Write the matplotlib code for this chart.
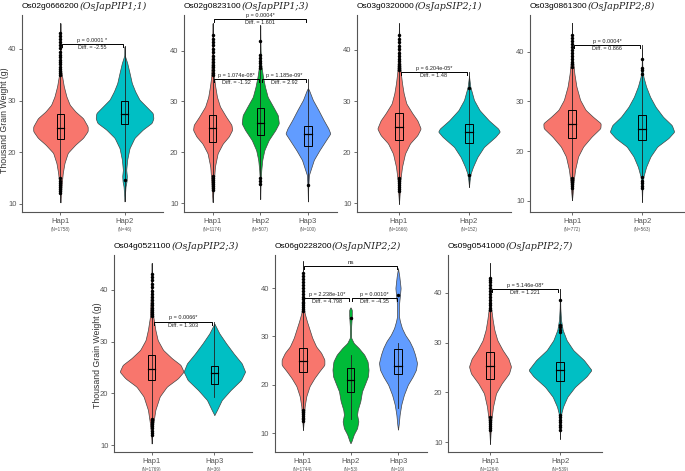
import numpy as np
import matplotlib
matplotlib.use("Agg")
import matplotlib.pyplot as plt
from matplotlib.patches import Rectangle

W, H = 685, 471
RED, GREEN, BLUE, CYAN = "#F8766D", "#00BA38", "#619CFF", "#00BFC4"

# ---------------- data ----------------
# Panel 1
p1_id, p1_gene = "Os02g0666200", "(OsJapPIP1;1)"
p1_groups = ["Hap1", "Hap2"]
p1_n = [1758, 46]
p1_h1_y = [45, 36, 34.7, 32.8, 30.8, 29.2, 27.9, 26.6, 25.0, 24.1, 22.8, 21.5, 19.9, 17.9, 16.0, 14.1, 12.1, 10.3]
p1_h1_d = [0, 2, 5, 10, 18, 28, 45, 68, 82, 82, 68, 45, 22, 12, 7, 4, 2, 0]
p1_h1_box = [22.6, 24.8, 27.4]
p1_h1_rng = [10.3, 45.0]
p1_h1_out = [35.0, 35.4, 35.8, 36.2, 36.6, 37.0, 37.4, 37.9, 38.4, 38.9, 39.5, 40.1, 40.7, 41.3, 41.9, 42.5, 43.1,
             12.1, 12.5, 12.9, 13.3, 13.7, 14.1, 14.5, 15.0]
p1_h2_y = [40.5, 38.7, 37.3, 35.4, 33.4, 31.8, 30.2, 28.9, 27.6, 26.6, 25.7, 24.4, 22.8, 20.8, 18.6, 16.6, 15.4, 14.4, 13.4, 12.5, 10.5]
p1_h2_d = [0, 1, 8, 15, 22, 32, 45, 65, 85, 87, 82, 55, 30, 15, 8, 5, 7, 6, 3, 2, 0]
p1_h2_box = [25.5, 27.4, 30.0]
p1_h2_rng = [10.5, 40.5]
p1_h2_out = [14.6]

# Panel 2
p2_id, p2_gene = "Os02g0823100", "(OsJapPIP1;3)"
p2_groups = ["Hap1", "Hap2", "Hap3"]
p2_n = [1174, 507, 100]
p2_h1_y = [45.4, 40, 34.9, 32.9, 30.9, 29.0, 27.0, 25.4, 24.4, 23.1, 21.7, 19.8, 17.2, 14.5, 11.9, 10.2]
p2_h1_d = [0, 2, 4, 8, 13, 22, 40, 56, 58, 48, 30, 15, 7, 4, 2, 0]
p2_h1_box = [22.1, 24.7, 27.3]
p2_h1_rng = [10.2, 45.4]
p2_h1_out = [35.2, 35.7, 36.2, 36.7, 37.2, 37.8, 38.4, 39.0, 39.7, 40.4, 41.1, 41.8, 42.4, 43.0,
             12.5, 12.9, 13.3, 13.7, 14.1, 14.5, 14.9, 15.3]
p2_h2_y = [45, 40, 37.2, 34.9, 32.9, 30.9, 29.0, 27.3, 25.7, 24.4, 22.4, 20.4, 18.5, 16.5, 14, 10.8]
p2_h2_d = [0, 1, 3, 8, 14, 22, 38, 52, 55, 45, 25, 12, 6, 3, 1, 0]
p2_h2_box = [23.4, 25.8, 28.8]
p2_h2_rng = [10.8, 45.0]
p2_h2_out = [36.5, 37.0, 37.5, 38.0, 38.6, 39.2, 42.0, 13.8, 14.4, 15.0]
p2_h3_y = [32.6, 32.3, 30.3, 28.3, 26.3, 24.7, 23.7, 22.4, 20.4, 18.5, 16.5, 15.5, 13, 10.3]
p2_h3_d = [0, 3, 15, 32, 48, 62, 68, 55, 35, 18, 8, 3, 1, 0]
p2_h3_box = [21.3, 23.5, 25.2]
p2_h3_rng = [10.3, 34.4]
p2_h3_out = [13.5]

# Panel 3
p3_id, p3_gene = "Os03g0320000", "(OsJapSIP2;1)"
p3_groups = ["Hap1", "Hap2"]
p3_n = [1666, 152]
p3_h1_y = [45.2, 40, 35.7, 33.5, 31.5, 29.5, 27.6, 26.2, 24.6, 23.3, 21.7, 19.7, 17.1, 14.5, 11.8, 9.9]
p3_h1_d = [0, 2, 5, 9, 14, 22, 40, 55, 65, 55, 33, 18, 9, 4, 2, 0]
p3_h1_box = [22.4, 24.9, 27.7]
p3_h1_rng = [9.9, 45.2]
p3_h1_out = [36.1, 36.5, 36.9, 37.3, 37.8, 38.3, 38.9, 39.5, 40.1, 40.8, 41.5, 42.2, 42.9,
             12.3, 12.7, 13.1, 13.5, 13.9, 14.3, 14.7, 15.0]
p3_h2_y = [34.9, 32.8, 30.2, 28.2, 26.2, 24.6, 24.0, 23.0, 21.0, 19.0, 17.1, 15.8, 14.5, 13.2]
p3_h2_d = [0, 4, 15, 32, 60, 88, 93, 80, 45, 25, 12, 5, 2, 0]
p3_h2_box = [21.8, 24.0, 25.4]
p3_h2_rng = [13.2, 35.7]
p3_h2_out = [32.5, 15.5]

# Panel 4
p4_id, p4_gene = "Os03g0861300", "(OsJapPIP2;8)"
p4_groups = ["Hap1", "Hap2"]
p4_n = [772, 563]
p4_h1_y = [45.8, 41, 38.3, 35.6, 33, 30.3, 28.3, 26.9, 25.6, 24.6, 22.9, 20.9, 18.9, 16.2, 13.5, 11.5, 10.1]
p4_h1_d = [0, 1, 3, 7, 13, 24, 40, 62, 85, 84, 58, 33, 18, 9, 4, 2, 0]
p4_h1_box = [22.7, 25.4, 28.3]
p4_h1_rng = [10.1, 45.8]
p4_h1_out = [37.0, 37.5, 38.0, 38.6, 39.2, 39.8, 40.4, 41.0, 41.6, 42.2, 42.8, 43.4,
             12.5, 12.9, 13.3, 13.7, 14.1, 14.5]
p4_h2_y = [40.7, 37, 35, 33, 30.9, 28.9, 26.9, 25.2, 23.9, 22.6, 20.9, 18.9, 16.8, 14.8, 12, 9.8]
p4_h2_d = [0, 1, 4, 12, 24, 40, 62, 88, 95, 78, 45, 25, 12, 4, 1, 0]
p4_h2_box = [22.2, 24.4, 27.2]
p4_h2_rng = [9.8, 41.3]
p4_h2_out = [35.5, 36.3, 36.8, 38.5, 12.5, 13.0, 13.5, 14.0, 14.8]

# Panel 5
p5_id, p5_gene = "Os04g0521100", "(OsJapPIP2;3)"
p5_groups = ["Hap1", "Hap3"]
p5_n = [1769, 36]
p5_h1_y = [45.2, 40, 34.8, 32.3, 30.3, 28.4, 26.8, 25.5, 24.2, 22.9, 21.3, 19.4, 16.8, 14.2, 12.3, 10.3]
p5_h1_d = [0, 2, 5, 11, 18, 34, 60, 86, 95, 78, 45, 24, 11, 5, 2, 0]
p5_h1_box = [22.5, 24.8, 27.4]
p5_h1_rng = [10.3, 45.2]
p5_h1_out = [35.0, 35.4, 35.8, 36.2, 36.6, 37.0, 37.5, 38.0, 38.6, 39.2, 39.8, 40.5, 41.2, 41.9, 42.5, 43.0,
             12.0, 12.4, 12.8, 13.2, 13.6, 14.0, 14.4, 14.8, 15.0]
p5_h2_y = [33.5, 31.6, 29.7, 27.7, 25.8, 24.2, 22.6, 20.6, 18.7, 16.8, 15.8]
p5_h2_d = [0, 15, 35, 58, 82, 92, 80, 48, 22, 8, 0]
p5_h2_box = [21.9, 23.9, 25.3]
p5_h2_rng = [19.3, 33.9]
p5_h2_out = []

# Panel 6
p6_id, p6_gene = "Os06g0228200", "(OsJapNIP2;2)"
p6_groups = ["Hap1", "Hap2", "Hap3"]
p6_n = [1744, 53, 19]
p6_h1_y = [45.5, 36.6, 34.8, 33.1, 31.4, 29.7, 27.9, 26.6, 25.2, 24.1, 22.8, 21.4, 19.7, 17.6, 15.5, 13.1, 10.7]
p6_h1_d = [0, 2, 5, 12, 20, 28, 40, 55, 65, 65, 50, 35, 20, 10, 5, 3, 0]
p6_h1_box = [22.6, 25.0, 27.6]
p6_h1_rng = [10.7, 45.5]
p6_h1_out = [35.2, 35.6, 36.0, 36.4, 36.8, 37.2, 37.7, 38.2, 38.8, 39.4, 40.0, 40.6, 41.2, 41.8, 42.4, 43.1,
             12.4, 12.8, 13.2, 13.6, 14.0, 14.4, 14.8]
p6_h2_y = [36.0, 35.5, 34.3, 33.1, 32.1, 29.7, 28.6, 27.6, 26.2, 24.8, 23.1, 21.7, 20.3, 18.6, 16.6, 14.8, 13.8, 12.4, 11.0, 9.7, 8.3, 7.9]
p6_h2_d = [0, 4, 4, 3, 2, 2, 10, 25, 42, 52, 55, 53, 45, 35, 30, 22, 20, 24, 20, 10, 3, 0]
p6_h2_box = [18.5, 21.0, 23.4]
p6_h2_rng = [12.8, 26.1]
p6_h2_out = [33.7]
p6_h3_y = [44.1, 42.4, 40.0, 37.9, 36.6, 34.1, 33.1, 31.7, 30.3, 29.0, 27.6, 26.2, 24.5, 23.1, 21.7, 20.0, 17.9, 15.9, 13.8, 11.7, 10.7]
p6_h3_d = [0, 4, 8, 5, 3, 3, 6, 12, 22, 35, 45, 52, 58, 55, 45, 30, 18, 10, 5, 2, 0]
p6_h3_box = [22.3, 23.9, 27.4]
p6_h3_rng = [15.2, 28.6]
p6_h3_out = [38.5]

# Panel 7
p7_id, p7_gene = "Os09g0541000", "(OsJapPIP2;7)"
p7_groups = ["Hap1", "Hap2"]
p7_n = [1264, 539]
p7_h1_y = [46, 41, 37.2, 34.6, 32.6, 30.5, 28.5, 26.8, 25.2, 23.8, 21.8, 19.8, 17.1, 14.4, 12.1, 9.7]
p7_h1_d = [0, 1, 3, 8, 13, 22, 38, 55, 63, 57, 35, 18, 9, 4, 2, 0]
p7_h1_box = [22.7, 25.3, 28.2]
p7_h1_rng = [9.7, 46.0]
p7_h1_out = [36.5, 37.0, 37.5, 38.0, 38.6, 39.2, 39.8, 40.4, 41.0, 41.6, 42.2, 42.6, 43.0,
             12.5, 12.9, 13.3, 13.7, 14.1, 14.5, 15.0]
p7_h2_y = [40.8, 37, 34.6, 32.6, 30.5, 28.5, 26.5, 24.5, 23.2, 21.1, 19.1, 17.1, 15.8, 13, 10.7]
p7_h2_d = [0, 1, 3, 8, 20, 40, 72, 95, 80, 45, 22, 9, 4, 1, 0]
p7_h2_box = [22.3, 24.4, 26.2]
p7_h2_rng = [10.7, 40.8]
p7_h2_out = [38.6, 33.6, 33.1, 32.6, 32.2, 12.5, 13.0, 13.5, 14.0, 14.5, 15.0, 15.5]

# significance annotations: (group a, group b, y, p text, diff text)
p1_sig = [(0, 1, 41.0, "p = 0.0001 *", "Diff. = -2.55")]
p2_sig = [(0, 2, 46.2, "p = 0.0004*", "Diff. = 1.601"),
          (0, 1, 34.4, "p = 1.074e-08*", "Diff. = -1.32"),
          (1, 2, 34.4, "p = 1.185e-09*", "Diff. = 2.92")]
p3_sig = [(0, 1, 35.7, "p = 6.204e-05*", "Diff. = 1.48")]
p4_sig = [(0, 1, 41.3, "p = 0.0004*", "Diff. = 0.866")]
p5_sig = [(0, 1, 33.9, "p = 0.0066*", "Diff. = 1.303")]
p6_sig = [(0, 2, 44.6, "ns", None),
          (0, 1, 37.9, "p = 2.238e-10*", "Diff. = 4.798"),
          (1, 2, 37.9, "p = 0.0010*", "Diff. = -4.35")]
p7_sig = [(0, 1, 40.8, "p = 5.146e-08*", "Diff. = 1.221")]

yticks = [10, 20, 30, 40]

# ---------------- layout / style ----------------
panels = [
    dict(id=p1_id, gene=p1_gene, groups=p1_groups, n=p1_n, sig=p1_sig, colors=[RED, CYAN],
         v=[(p1_h1_y, p1_h1_d, p1_h1_box, p1_h1_rng, p1_h1_out), (p1_h2_y, p1_h2_d, p1_h2_box, p1_h2_rng, p1_h2_out)],
         maxw=[0.425, 0.45], px=(22, 163, 15, 212), ylim=(8.45, 46.58), ylabel=(5, 120)),
    dict(id=p2_id, gene=p2_gene, groups=p2_groups, n=p2_n, sig=p2_sig, colors=[RED, GREEN, BLUE],
         v=[(p2_h1_y, p2_h1_d, p2_h1_box, p2_h1_rng, p2_h1_out), (p2_h2_y, p2_h2_d, p2_h2_box, p2_h2_rng, p2_h2_out),
            (p2_h3_y, p2_h3_d, p2_h3_box, p2_h3_rng, p2_h3_out)],
         maxw=[0.41, 0.39, 0.47], px=(184, 336.5, 15, 212), ylim=(8.23, 47.03), ylabel=None),
    dict(id=p3_id, gene=p3_gene, groups=p3_groups, n=p3_n, sig=p3_sig, colors=[RED, CYAN],
         v=[(p3_h1_y, p3_h1_d, p3_h1_box, p3_h1_rng, p3_h1_out), (p3_h2_y, p3_h2_d, p3_h2_box, p3_h2_rng, p3_h2_out)],
         maxw=[0.31, 0.44], px=(357, 511, 15, 212), ylim=(8.24, 46.86), ylabel=None),
    dict(id=p4_id, gene=p4_gene, groups=p4_groups, n=p4_n, sig=p4_sig, colors=[RED, CYAN],
         v=[(p4_h1_y, p4_h1_d, p4_h1_box, p4_h1_rng, p4_h1_out), (p4_h2_y, p4_h2_d, p4_h2_box, p4_h2_rng, p4_h2_out)],
         maxw=[0.41, 0.46], px=(530, 684, 15, 212), ylim=(7.72, 47.39), ylabel=None),
    dict(id=p5_id, gene=p5_gene, groups=p5_groups, n=p5_n, sig=p5_sig, colors=[RED, CYAN],
         v=[(p5_h1_y, p5_h1_d, p5_h1_box, p5_h1_rng, p5_h1_out), (p5_h2_y, p5_h2_d, p5_h2_box, p5_h2_rng, p5_h2_out)],
         maxw=[0.51, 0.49], px=(114, 252, 255, 452), ylim=(8.65, 46.77), ylabel=(97, 355)),
    dict(id=p6_id, gene=p6_gene, groups=p6_groups, n=p6_n, sig=p6_sig, colors=[RED, GREEN, BLUE],
         v=[(p6_h1_y, p6_h1_d, p6_h1_box, p6_h1_rng, p6_h1_out), (p6_h2_y, p6_h2_d, p6_h2_box, p6_h2_rng, p6_h2_out),
            (p6_h3_y, p6_h3_d, p6_h3_box, p6_h3_rng, p6_h3_out)],
         maxw=[0.45, 0.38, 0.40], px=(274.5, 426.5, 255, 452), ylim=(6.07, 46.83), ylabel=None),
    dict(id=p7_id, gene=p7_gene, groups=p7_groups, n=p7_n, sig=p7_sig, colors=[RED, CYAN],
         v=[(p7_h1_y, p7_h1_d, p7_h1_box, p7_h1_rng, p7_h1_out), (p7_h2_y, p7_h2_d, p7_h2_box, p7_h2_rng, p7_h2_out)],
         maxw=[0.30, 0.45], px=(448, 602, 255, 452), ylim=(7.99, 47.65), ylabel=None),
]

SANS = "Liberation Sans"
plt.rcParams["font.family"] = [SANS, "DejaVu Sans"]

fig = plt.figure(figsize=(W / 100, H / 100), dpi=100)
fig.patch.set_facecolor("white")


def smooth_profile(ys, ds, n=400, k=9):
    ys = np.asarray(ys, float)
    ds = np.asarray(ds, float)
    o = np.argsort(ys)
    ys, ds = ys[o], ds[o]
    yy = np.linspace(ys[0], ys[-1], n)
    ww = np.interp(yy, ys, ds)
    kern = np.hanning(k)
    kern /= kern.sum()
    ws = np.convolve(np.pad(ww, k // 2, mode="edge"), kern, mode="valid")
    ws[0] = 0
    ws[-1] = 0
    return yy, ws


title_items = []
for P in panels:
    l, r, t, b = P["px"]
    ax = fig.add_axes([l / W, 1 - b / H, (r - l) / W, (b - t) / H])
    ng = len(P["groups"])
    xlim = (0.4, ng + 0.6)
    ax.set_xlim(*xlim)
    ax.set_ylim(*P["ylim"])
    ppu = (r - l) / (xlim[1] - xlim[0])
    bw = 3.6 / ppu
    for i, (vy, vd, box, rng, out) in enumerate(P["v"]):
        x = i + 1
        yy, ws = smooth_profile(vy, vd)
        hw = ws / max(vd) * P["maxw"][i]
        ax.fill_betweenx(yy, x - hw, x + hw, facecolor=P["colors"][i], edgecolor="#444444",
                         linewidth=0.5, zorder=2)
        ax.plot([x, x], rng, color="#222222", lw=0.6, zorder=3)
        ax.add_patch(Rectangle((x - bw, box[0]), 2 * bw, box[2] - box[0], facecolor="none",
                               edgecolor="black", lw=0.7, zorder=4))
        ax.plot([x - bw, x + bw], [box[1], box[1]], color="black", lw=0.9, zorder=4)
        if out:
            ax.plot([x] * len(out), out, "o", color="black", ms=2.5, mew=0, zorder=5)
    for (a, bb, y, ptxt, dtxt) in P["sig"]:
        x0, x1 = a + 1.03, bb + 0.97
        ax.plot([x0, x0, x1, x1], [y - 0.6, y, y, y - 0.6], color="black", lw=0.7, zorder=6, clip_on=False)
        xm = (a + bb) / 2 + 1
        ax.annotate(ptxt, (xm, y), xytext=(0, 0.8), textcoords="offset points", ha="center", va="bottom",
                    fontsize=4.0 if ptxt != "ns" else 4.5, color="#222222", annotation_clip=False)
        if dtxt:
            ax.annotate(dtxt, (xm, y), xytext=(0, -0.8), textcoords="offset points", ha="center", va="top",
                        fontsize=4.0, color="#222222", annotation_clip=False)
    for s in ["top", "right"]:
        ax.spines[s].set_visible(False)
    for s in ["left", "bottom"]:
        ax.spines[s].set_color("#555555")
        ax.spines[s].set_linewidth(0.8)
    ax.set_yticks(yticks)
    ax.set_yticklabels([str(v) for v in yticks])
    ax.set_xticks(range(1, ng + 1))
    ax.set_xticklabels(P["groups"])
    ax.tick_params(axis="both", colors="#555555", labelcolor="#555555", length=2.5, width=0.6,
                   labelsize=5.5, pad=1.5)
    for i, nval in enumerate(P["n"]):
        ax.annotate("(N=%d)" % nval, (i + 1, 0), xycoords=("data", "axes fraction"),
                    xytext=(0, -12.5), textcoords="offset points", ha="center", va="center",
                    fontsize=3.3, color="#555555", annotation_clip=False)
    if P["ylabel"]:
        xl, yl = P["ylabel"]
        fig.text(xl / W, 1 - yl / H, "Thousand Grain Weight (g)", rotation=90, ha="center", va="center",
                 fontsize=6.3, color="#333333")
    ty = 6.5 if t < 100 else 246.5
    t1 = fig.text(l / W, 1 - ty / H, P["id"], ha="left", va="center", fontsize=6.0, color="black")
    title_items.append((t1, P["gene"], ty))

fig.canvas.draw()
rend = fig.canvas.get_renderer()
for t1, gene, ty in title_items:
    bb = t1.get_window_extent(renderer=rend)
    fig.text(bb.x1 / W, 1 - ty / H, gene, ha="left", va="center", fontsize=6.8,
             family="DejaVu Serif", style="italic", color="#222222")

fig.savefig("out.png", dpi=100, facecolor="white")
